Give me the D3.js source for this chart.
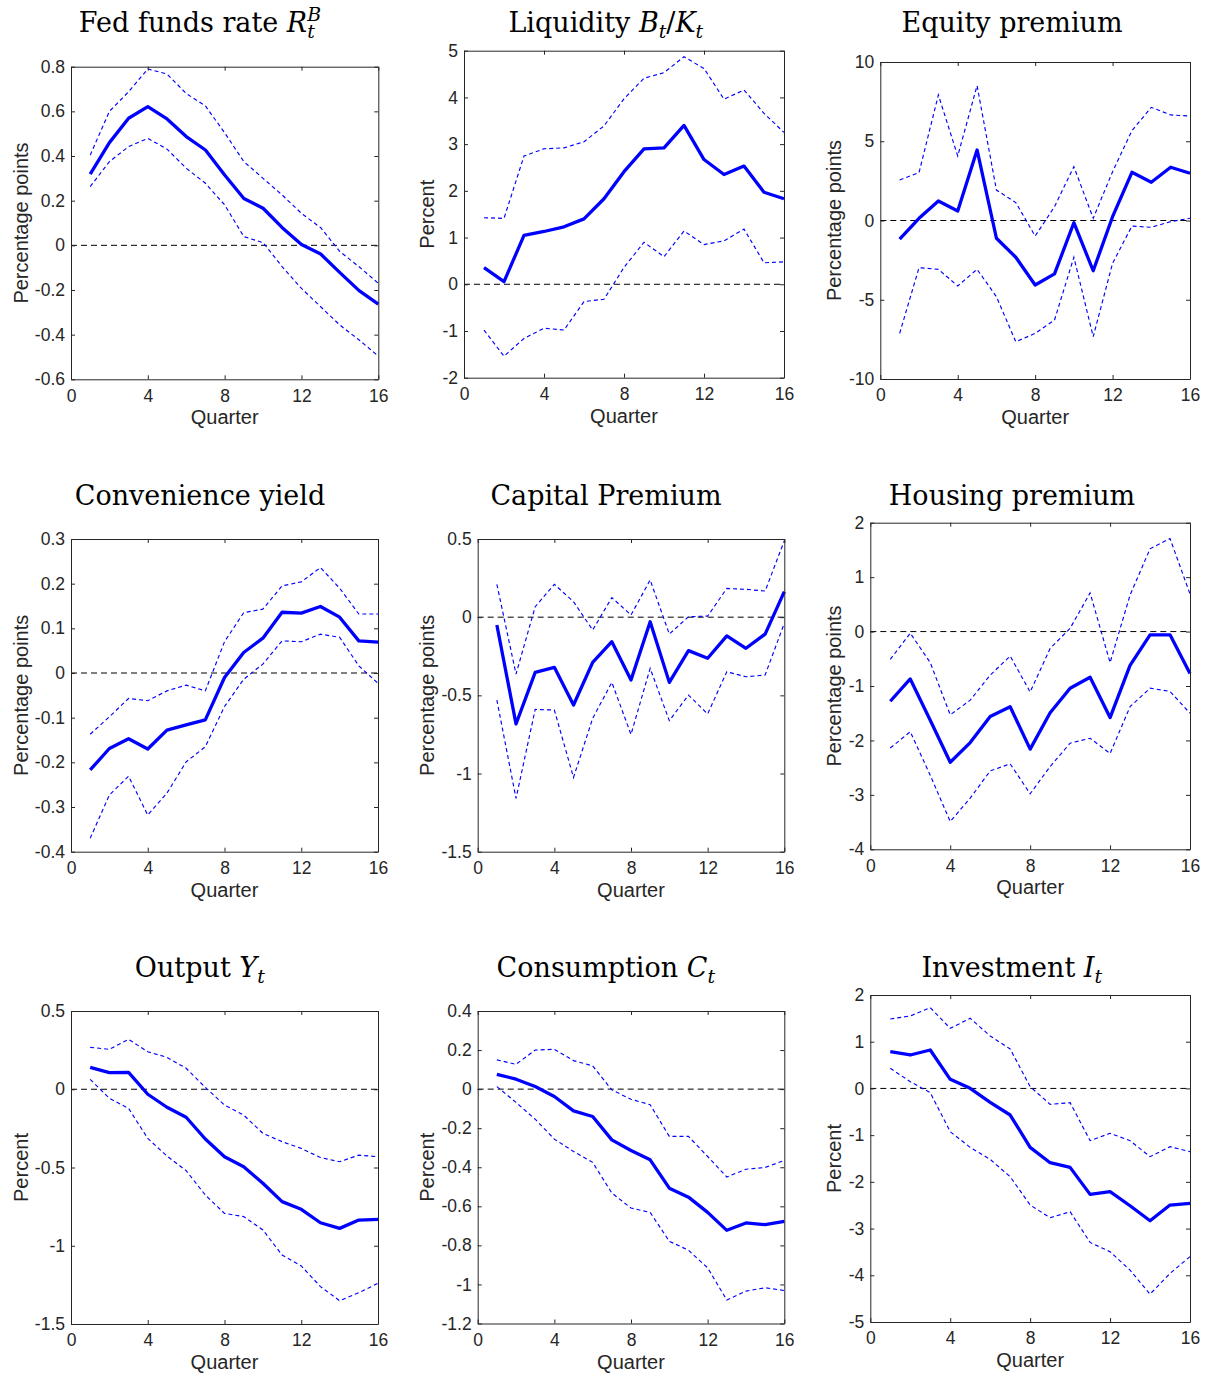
<!DOCTYPE html>
<html>
<head>
<meta charset="utf-8">
<script src="https://cdn.jsdelivr.net/npm/d3@7"></script>
<style>
  html, body { margin: 0; padding: 0; background: #fff; }
  svg { display: block; }
</style>
</head>
<body>
<svg id="chart" width="1208" height="1374"></svg>
<script>
// ---------------- DATA ----------------
const quarters = [1,2,3,4,5,6,7,8,9,10,11,12,13,14,15,16];
const xTicks = [0, 4, 8, 12, 16];

// Fed funds rate
const fedMid = [0.319,0.46,0.569,0.621,0.566,0.487,0.427,0.315,0.21,0.166,0.079,0.004,-0.039,-0.122,-0.203,-0.263];
const fedUp  = [0.404,0.60,0.688,0.79,0.767,0.68,0.624,0.504,0.375,0.30,0.225,0.143,0.079,-0.028,-0.096,-0.17];
const fedLo  = [0.263,0.375,0.442,0.479,0.431,0.345,0.278,0.181,0.039,0.012,-0.096,-0.193,-0.275,-0.357,-0.424,-0.496];
const fedTicks = [-0.6,-0.4,-0.2,0,0.2,0.4,0.6,0.8];

// Liquidity
const liqMid = [0.355,0.055,1.047,1.13,1.23,1.40,1.83,2.41,2.90,2.92,3.40,2.67,2.35,2.53,1.97,1.83];
const liqUp  = [1.425,1.41,2.745,2.90,2.92,3.05,3.39,3.97,4.41,4.53,4.87,4.62,3.96,4.16,3.66,3.25];
const liqLo  = [-0.98,-1.54,-1.16,-0.94,-0.98,-0.37,-0.32,0.36,0.90,0.59,1.14,0.85,0.93,1.18,0.46,0.48];
const liqTicks = [-2,-1,0,1,2,3,4,5];

// Equity premium
const eqMid = [-1.17,0.14,1.23,0.60,4.45,-1.12,-2.32,-4.07,-3.37,-0.14,-3.17,0.24,3.04,2.41,3.36,2.98];
const eqUp  = [2.56,3.02,7.92,4.07,8.51,1.92,1.13,-0.98,0.87,3.40,0.14,3.08,5.67,7.14,6.66,6.59];
const eqLo  = [-7.12,-2.98,-3.08,-4.13,-3.08,-4.81,-7.65,-7.12,-6.28,-2.32,-7.33,-2.70,-0.35,-0.43,-0.07,0.14];
const eqTicks = [-10,-5,0,5,10];

// Convenience yield
const cyMid = [-0.217,-0.169,-0.147,-0.170,-0.128,-0.116,-0.105,-0.010,0.046,0.078,0.136,0.134,0.149,0.125,0.072,0.069];
const cyUp  = [-0.137,-0.098,-0.057,-0.062,-0.040,-0.027,-0.040,0.070,0.135,0.143,0.195,0.204,0.236,0.190,0.132,0.132];
const cyLo  = [-0.370,-0.273,-0.231,-0.318,-0.269,-0.199,-0.165,-0.075,-0.014,0.020,0.072,0.070,0.087,0.080,0.016,-0.023];
const cyTicks = [-0.4,-0.3,-0.2,-0.1,0,0.1,0.2,0.3];

// Capital premium
const kpMid = [-0.05,-0.683,-0.353,-0.321,-0.562,-0.289,-0.157,-0.402,-0.029,-0.417,-0.214,-0.263,-0.12,-0.199,-0.108,0.163];
const kpUp  = [0.21,-0.364,0.067,0.21,0.099,-0.082,0.125,0.014,0.238,-0.108,0.003,0.007,0.184,0.178,0.167,0.489];
const kpLo  = [-0.53,-1.159,-0.59,-0.594,-1.025,-0.647,-0.417,-0.75,-0.327,-0.662,-0.498,-0.619,-0.349,-0.381,-0.37,-0.039];
const kpTicks = [-1.5,-1,-0.5,0,0.5];

// Housing premium
const hpMid = [-1.28,-0.87,-1.63,-2.40,-2.04,-1.56,-1.38,-2.16,-1.49,-1.04,-0.84,-1.58,-0.62,-0.06,-0.06,-0.77];
const hpUp  = [-0.51,-0.03,-0.57,-1.53,-1.26,-0.80,-0.45,-1.11,-0.31,0.06,0.71,-0.57,0.67,1.52,1.71,0.69];
const hpLo  = [-2.14,-1.84,-2.64,-3.49,-3.06,-2.56,-2.43,-2.98,-2.48,-2.05,-1.96,-2.24,-1.38,-1.04,-1.10,-1.50];
const hpTicks = [-4,-3,-2,-1,0,1,2];

// Output
const yMid = [0.140,0.106,0.108,-0.032,-0.115,-0.179,-0.318,-0.431,-0.495,-0.601,-0.718,-0.767,-0.853,-0.889,-0.836,-0.831];
const yUp  = [0.268,0.255,0.319,0.240,0.204,0.134,0.012,-0.101,-0.165,-0.282,-0.335,-0.378,-0.436,-0.463,-0.421,-0.431];
const yLo  = [0.063,-0.058,-0.122,-0.314,-0.427,-0.520,-0.676,-0.793,-0.814,-0.899,-1.059,-1.129,-1.261,-1.351,-1.300,-1.240];
const yTicks = [-1.5,-1,-0.5,0,0.5];

// Consumption
const cMid = [0.076,0.051,0.013,-0.038,-0.111,-0.140,-0.260,-0.314,-0.362,-0.507,-0.553,-0.631,-0.723,-0.685,-0.694,-0.677];
const cUp  = [0.150,0.127,0.200,0.204,0.146,0.119,-0.004,-0.052,-0.080,-0.242,-0.242,-0.345,-0.450,-0.410,-0.401,-0.365];
const cLo  = [0.013,-0.068,-0.154,-0.256,-0.319,-0.375,-0.532,-0.609,-0.631,-0.779,-0.825,-0.915,-1.080,-1.034,-1.017,-1.031];
const cTicks = [-1.2,-1,-0.8,-0.6,-0.4,-0.2,0,0.2,0.4];

// Investment
const iMid = [0.787,0.716,0.823,0.195,0.002,-0.298,-0.569,-1.262,-1.590,-1.690,-2.268,-2.211,-2.511,-2.832,-2.496,-2.461];
const iUp  = [1.487,1.551,1.729,1.287,1.501,1.123,0.844,0.038,-0.340,-0.305,-1.118,-0.961,-1.118,-1.461,-1.247,-1.354];
const iLo  = [0.430,0.145,-0.091,-0.926,-1.262,-1.519,-1.890,-2.496,-2.768,-2.640,-3.296,-3.496,-3.890,-4.404,-3.960,-3.600];
const iTicks = [-5,-4,-3,-2,-1,0,1,2];

// Titles as segments (text, italic, shift)
const titles = [
  [{t:"Fed funds rate "},{t:"R",it:true},{t:"t",it:true,sh:"sub"},{t:"B",it:true,sh:"sup",same:true}],
  [{t:"Liquidity "},{t:"B",it:true},{t:"t",it:true,sh:"sub"},{t:"/"},{t:"K",it:true},{t:"t",it:true,sh:"sub"}],
  [{t:"Equity premium"}],
  [{t:"Convenience yield"}],
  [{t:"Capital Premium"}],
  [{t:"Housing premium"}],
  [{t:"Output "},{t:"Y",it:true},{t:"t",it:true,sh:"sub"}],
  [{t:"Consumption "},{t:"C",it:true},{t:"t",it:true,sh:"sub"}],
  [{t:"Investment "},{t:"I",it:true},{t:"t",it:true,sh:"sub"}]
];
const yLabels = ["Percentage points","Percent","Percentage points",
                 "Percentage points","Percentage points","Percentage points",
                 "Percent","Percent","Percent"];
const xLabel = "Quarter";

const series = [
  [fedMid, fedUp, fedLo, fedTicks],
  [liqMid, liqUp, liqLo, liqTicks],
  [eqMid, eqUp, eqLo, eqTicks],
  [cyMid, cyUp, cyLo, cyTicks],
  [kpMid, kpUp, kpLo, kpTicks],
  [hpMid, hpUp, hpLo, hpTicks],
  [yMid, yUp, yLo, yTicks],
  [cMid, cUp, cLo, cTicks],
  [iMid, iUp, iLo, iTicks]
];

// ---------------- LAYOUT ----------------
const boxes = [
  [71, 66.7, 378.3, 379.3],
  [464, 50.7, 784, 377.7],
  [880.3, 62, 1190, 379],
  [71, 539, 378, 851.7],
  [477.7, 539, 784.3, 851.7],
  [870.3, 522.7, 1190, 849.3],
  [71, 1011, 378, 1324],
  [477.7, 1011, 784.3, 1323.5],
  [870.3, 995, 1190, 1322]
];
const titleCx = [200, 606, 1012];
const titleBase = [32, 505, 977];
const ylabCx = [21, 427, 834];

const AX = "#262626";
const SANS = "'Liberation Sans', Arial, Helvetica, sans-serif";
const SERIF = "'DejaVu Serif', serif";
const TFS = 27;

const svg = d3.select("#chart");
const fmt = v => String(+v.toFixed(3));

series.forEach((s, i) => {
  const [mid, up, lo, ticks] = s;
  const [L, T, R, B] = boxes[i];
  const col = i % 3, row = Math.floor(i / 3);
  const x = d3.scaleLinear().domain([0, 16]).range([L, R]);
  const y = d3.scaleLinear().domain([ticks[0], ticks[ticks.length - 1]]).range([B, T]);
  const g = svg.append("g");

  // zero line
  g.append("line")
    .attr("x1", x(0)).attr("x2", x(16)).attr("y1", y(0)).attr("y2", y(0))
    .attr("stroke", "#000").attr("stroke-width", 1).attr("stroke-dasharray", "6,4");

  const line = d3.line().x((d, k) => x(quarters[k])).y(d => y(d));
  [up, lo].forEach(arr => {
    g.append("path").datum(arr).attr("d", line)
      .attr("fill", "none").attr("stroke", "#0000ff")
      .attr("stroke-width", 1.15).attr("stroke-dasharray", "4,3");
  });
  g.append("path").datum(mid).attr("d", line)
    .attr("fill", "none").attr("stroke", "#0000ff")
    .attr("stroke-width", 3.3).attr("stroke-linejoin", "round");

  // axes
  const ax = (sel) => {
    sel.selectAll(".domain").attr("stroke", AX).attr("stroke-width", 1);
    sel.selectAll(".tick line").attr("stroke", AX).attr("stroke-width", 1);
    sel.selectAll("text").attr("fill", AX).style("font-family", SANS).style("font-size", "17.5px");
  };
  g.append("g").attr("transform", `translate(0,${B})`)
    .call(d3.axisBottom(x).tickValues(xTicks).tickFormat(fmt).tickSizeInner(-4).tickSizeOuter(0).tickPadding(10)).call(ax);
  g.append("g").attr("transform", `translate(0,${T})`)
    .call(d3.axisTop(x).tickValues(xTicks).tickFormat("").tickSizeInner(-4).tickSizeOuter(0)).call(ax);
  g.append("g").attr("transform", `translate(${L},0)`)
    .call(d3.axisLeft(y).tickValues(ticks).tickFormat(fmt).tickSizeInner(-4).tickSizeOuter(0).tickPadding(6)).call(ax);
  g.append("g").attr("transform", `translate(${R},0)`)
    .call(d3.axisRight(y).tickValues(ticks).tickFormat("").tickSizeInner(-4).tickSizeOuter(0)).call(ax);
  g.selectAll(".domain").attr("fill", "none");

  // x label
  g.append("text").attr("x", (L + R) / 2).attr("y", B + 45)
    .attr("text-anchor", "middle").attr("fill", AX)
    .style("font-family", SANS).style("font-size", "20px").text(xLabel);

  // y label
  g.append("text")
    .attr("transform", `translate(${ylabCx[col]},${(T + B) / 2}) rotate(-90)`)
    .attr("dy", "0.36em").attr("text-anchor", "middle").attr("fill", AX)
    .style("font-family", SANS).style("font-size", "20px").text(yLabels[i]);

  // title: one text element with tspans
  const te = g.append("text").attr("x", 0).attr("y", titleBase[row])
    .attr("fill", "#000")
    .style("font-family", SERIF).style("font-size", TFS + "px")
    .style("white-space", "pre");
  let curShift = 0, prevW = 0;
  titles[i].forEach(seg => {
    const fs = seg.sh ? TFS * 0.7 : TFS;
    const target = seg.sh === "sub" ? 6 : seg.sh === "sup" ? -11 : 0;
    const ts = te.append("tspan")
      .attr("dy", target - curShift)
      .style("font-size", fs + "px")
      .style("font-style", seg.it ? "italic" : "normal")
      .text(seg.t);
    if (seg.same) ts.attr("dx", -prevW);
    curShift = target;
    prevW = ts.node().getComputedTextLength();
  });
  const bb = te.node().getBBox();
  te.attr("x", titleCx[col] - (bb.x + bb.width / 2));
});
</script>
</body>
</html>
